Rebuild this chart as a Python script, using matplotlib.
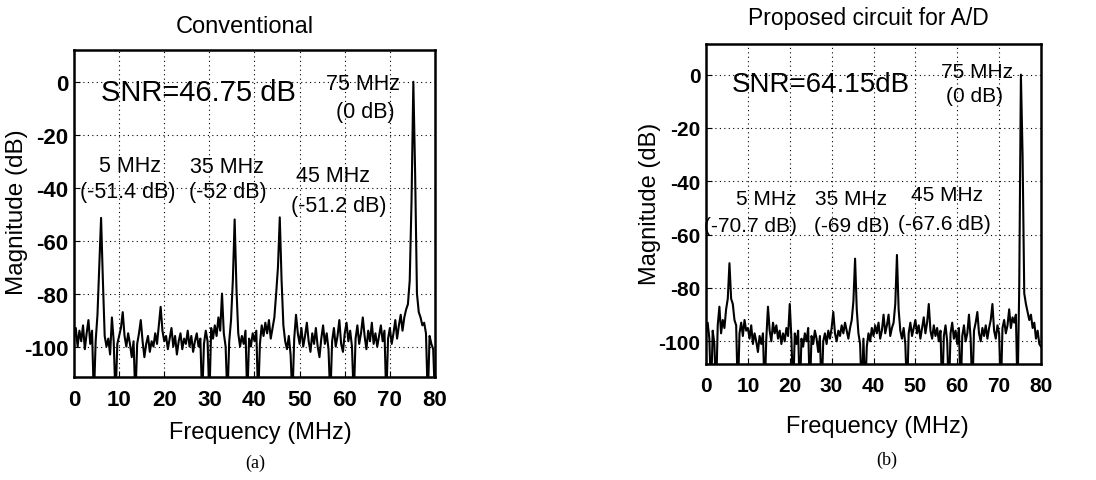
import numpy as np
import matplotlib

matplotlib.use("Agg")
import matplotlib.pyplot as plt  # noqa: E402

plt.rcParams["font.family"] = ["Liberation Sans", "DejaVu Sans"]
plt.rcParams["axes.unicode_minus"] = False

# frequency grid (MHz), 0.4 MHz bins
freq = np.arange(0, 80.01, 0.4)

# (a) conventional, magnitude in dB; -120 means the trace drops off the axis
mag_conv = [
    -97, -93, -100, -94, -98, -92, -101, -95, -90, -99, -94, -120, -98, -88, -70, -51.4, -75, -96, -100, -97, -103, -89, -98, -120, -99,
    -96, -93, -87, -96, -100, -95, -99, -104, -98, -120, -99, -95, -90, -98, -104, -99, -96, -102, -98, -100, -95, -99, -92, -85, -94,
    -98, -96, -101, -97, -93, -100, -96, -103, -98, -95, -101, -97, -99, -94, -100, -96, -102, -98, -95, -100, -97, -120, -99, -94, -98,
    -120, -93, -97, -92, -96, -89, -94, -80, -95, -100, -120, -98, -90, -75, -52, -78, -95, -100, -96, -99, -94, -120, -97, -100, -95,
    -98, -94, -120, -99, -92, -96, -91, -95, -90, -97, -93, -89, -80, -70, -51.2, -75, -92, -98, -101, -96, -103, -120, -97, -88, -95,
    -99, -93, -100, -96, -91, -98, -102, -95, -99, -93, -100, -104, -97, -92, -99, -95, -101, -120, -98, -93, -100, -96, -90, -99, -102,
    -95, -91, -98, -94, -100, -120, -97, -92, -99, -95, -89, -96, -101, -94, -98, -91, -99, -95, -100, -96, -92, -98, -94, -120, -97,
    -93, -99, -95, -90, -97, -92, -88, -94, -89, -86, -84, -75, -45, 0, -35, -80, -87, -89, -92, -91, -95, -120, -96, -99, -101,
    -120,
]

# (b) proposed circuit for A/D
mag_prop = [
    -97, -93, -99, -120, -96, -101, -120, -94, -87, -97, -92, -95, -88, -84, -70.7, -84, -86, -92, -94, -120, -97, -93, -98, -92, -96,
    -95, -99, -94, -101, -97, -100, -104, -98, -101, -97, -120, -99, -87, -96, -100, -93, -97, -94, -99, -96, -101, -97, -100, -95, -98,
    -86, -99, -120, -97, -101, -96, -120, -99, -102, -97, -100, -95, -120, -98, -101, -96, -99, -104, -98, -120, -100, -97, -101, -96, -99,
    -95, -89, -97, -100, -96, -98, -94, -97, -93, -96, -99, -95, -92, -85, -69, -88, -97, -101, -120, -99, -120, -102, -97, -100, -95,
    -98, -94, -97, -93, -99, -96, -90, -97, -94, -90, -98, -95, -93, -86, -67.6, -88, -96, -99, -95, -101, -120, -97, -93, -98, -95,
    -92, -97, -94, -99, -95, -91, -97, -93, -86, -96, -99, -94, -98, -95, -100, -96, -120, -98, -94, -100, -120, -97, -93, -99, -96,
    -101, -95, -120, -98, -94, -100, -97, -90, -99, -120, -96, -93, -89, -97, -100, -95, -98, -94, -99, -95, -92, -86, -96, -99, -94,
    -97, -120, -95, -92, -97, -94, -88, -95, -91, -93, -90, -120, -80, 0, -30, -82, -86, -89, -92, -90, -95, -93, -99, -96, -101,
    -102,
]

# annotation texts: (label, x, y, fontsize)
notes_conv = [
    ("SNR=46.75 dB", 27.5, -3.8, 21),
    ("75 MHz", 64.0, -0.8, 15.5),
    ("(0 dB)", 64.5, -11.3, 15.5),
    ("5 MHz", 12.4, -31.7, 15.5),
    ("(-51.4 dB)", 12.0, -41.5, 15.5),
    ("35 MHz", 33.9, -32.0, 15.5),
    ("(-52 dB)", 34.0, -41.5, 15.5),
    ("45 MHz", 57.5, -35.5, 15.5),
    ("(-51.2 dB)", 58.6, -46.8, 15.5),
]
notes_prop = [
    ("SNR=64.15dB", 27.4, -3.4, 20),
    ("75 MHz", 64.6, 1.1, 15),
    ("(0 dB)", 64.2, -7.9, 15),
    ("5 MHz", 14.4, -46.4, 15),
    ("(-70.7 dB)", 10.6, -56.5, 15),
    ("35 MHz", 34.7, -46.4, 15),
    ("(-69 dB)", 34.7, -56.5, 15),
    ("45 MHz", 57.5, -45.0, 15),
    ("(-67.6 dB)", 57.0, -55.7, 15),
]

xticks = [0, 10, 20, 30, 40, 50, 60, 70, 80]
yticks = [0, -20, -40, -60, -80, -100]

W, H = 1096, 481


def fx(px):
    return px / W


def fy(py):
    return 1 - py / H


def draw_panel(ax, mag, ylim, notes, tick_size):
    ax.plot(freq, mag, color="black", lw=1.5, clip_on=True)
    ax.set_xlim(0, 80)
    ax.set_ylim(*ylim)
    ax.set_xticks(xticks)
    ax.set_yticks(yticks)
    ax.grid(True, color="black", linestyle=(0, (1, 3)), linewidth=0.8)
    ax.tick_params(direction="in", length=4, labelsize=tick_size)
    ax.tick_params(axis="y", pad=4)
    ax.tick_params(axis="x", pad=9)
    for lab in ax.get_xticklabels() + ax.get_yticklabels():
        lab.set_fontweight("bold")
    for sp in ax.spines.values():
        sp.set_linewidth(1.8)
    for txt, x, y, fs in notes:
        ax.text(x, y, txt, ha="center", va="center", fontsize=fs)


fig = plt.figure(figsize=(W / 100, H / 100), dpi=100)

ax_a = fig.add_axes([fx(74), fy(378), fx(435 - 74), (378 - 51) / H])
draw_panel(ax_a, mag_conv, (-111.5, 12), notes_conv, 16)

ax_b = fig.add_axes([fx(706), fy(365), fx(1041 - 706), (365 - 45) / H])
draw_panel(ax_b, mag_prop, (-108.5, 11.5), notes_prop, 15)

# titles, axis labels and captions placed at pixel positions
fig.text(fx(245), fy(27), "Conventional", ha="center", va="center", fontsize=17)
fig.text(fx(868), fy(18), "Proposed circuit for A/D", ha="center", va="center", fontsize=16.5)
fig.text(fx(260), fy(433), "Frequency (MHz)", ha="center", va="center", fontsize=17)
fig.text(fx(877), fy(427), "Frequency (MHz)", ha="center", va="center", fontsize=17)
fig.text(fx(17), fy(212), "Magnitude (dB)", ha="center", va="center", rotation=90, fontsize=17.5)
fig.text(fx(650), fy(204), "Magnitude (dB)", ha="center", va="center", rotation=90, fontsize=17)
fig.text(fx(255), fy(463), "(a)", ha="center", va="center", fontsize=13, family="Liberation Serif")
fig.text(fx(887), fy(460), "(b)", ha="center", va="center", fontsize=13, family="Liberation Serif")

fig.savefig("out.png", dpi=100)
plt.close(fig)
